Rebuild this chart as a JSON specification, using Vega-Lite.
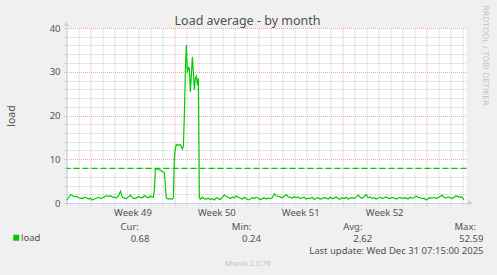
{
  "$schema": "https://vega.github.io/schema/vega-lite/v6.json",
  "width": 400,
  "height": 175,
  "autosize": {"type": "none"},
  "padding": {"left": 66.5, "top": 28, "right": 30.5, "bottom": 72},
  "background": "#f0f0f0",
  "config": {"font": "Noto Sans", "view": {"fill": "white", "stroke": null}},
  "title": {"text": "Load average - by month", "fontSize": 12.5, "font": "Noto Sans", "fontWeight": "normal", "color": "#505050", "anchor": "middle", "frame": "group", "dx": -19, "dy": 25, "offset": 2},
  "datasets": {
    "load": [
      {"t":"2025-11-28T00:00Z","load":0.6},{"t":"2025-11-28T04:00Z","load":1.2},{"t":"2025-11-28T08:00Z","load":1.9},{"t":"2025-11-28T12:00Z","load":1.7},{"t":"2025-11-28T16:00Z","load":1.4},{"t":"2025-11-28T20:00Z","load":1.5},
      {"t":"2025-11-29T00:00Z","load":1.2},{"t":"2025-11-29T04:00Z","load":1.1},{"t":"2025-11-29T08:00Z","load":1.0},{"t":"2025-11-29T12:00Z","load":1.3},{"t":"2025-11-29T16:00Z","load":1.2},{"t":"2025-11-29T20:00Z","load":0.9},
      {"t":"2025-11-30T00:00Z","load":1.1},{"t":"2025-11-30T04:00Z","load":0.7},{"t":"2025-11-30T08:00Z","load":0.9},{"t":"2025-11-30T12:00Z","load":1.1},{"t":"2025-11-30T16:00Z","load":1.3},{"t":"2025-11-30T20:00Z","load":1.0},
      {"t":"2025-12-01T00:00Z","load":1.2},{"t":"2025-12-01T04:00Z","load":1.4},{"t":"2025-12-01T08:00Z","load":1.7},{"t":"2025-12-01T12:00Z","load":1.5},{"t":"2025-12-01T16:00Z","load":1.6},{"t":"2025-12-01T20:00Z","load":1.4},
      {"t":"2025-12-02T00:00Z","load":1.3},{"t":"2025-12-02T04:00Z","load":1.2},{"t":"2025-12-02T08:00Z","load":1.6},{"t":"2025-12-02T12:00Z","load":2.7},{"t":"2025-12-02T16:00Z","load":1.3},{"t":"2025-12-02T20:00Z","load":1.1},
      {"t":"2025-12-03T00:00Z","load":1.0},{"t":"2025-12-03T04:00Z","load":1.4},{"t":"2025-12-03T08:00Z","load":1.8},{"t":"2025-12-03T12:00Z","load":1.2},{"t":"2025-12-03T16:00Z","load":1.0},{"t":"2025-12-03T20:00Z","load":1.1},
      {"t":"2025-12-04T00:00Z","load":1.5},{"t":"2025-12-04T04:00Z","load":1.3},{"t":"2025-12-04T08:00Z","load":1.2},{"t":"2025-12-04T12:00Z","load":1.7},{"t":"2025-12-04T16:00Z","load":1.4},{"t":"2025-12-04T20:00Z","load":1.2},
      {"t":"2025-12-05T00:00Z","load":1.6},{"t":"2025-12-05T04:00Z","load":1.3},{"t":"2025-12-05T06:00Z","load":1.4},{"t":"2025-12-05T08:00Z","load":3.0},{"t":"2025-12-05T10:00Z","load":7.8},{"t":"2025-12-05T12:00Z","load":7.8},{"t":"2025-12-05T16:00Z","load":7.6},{"t":"2025-12-05T20:00Z","load":7.5},
      {"t":"2025-12-06T00:00Z","load":7.2},{"t":"2025-12-06T04:00Z","load":6.9},{"t":"2025-12-06T06:00Z","load":4.0},{"t":"2025-12-06T08:00Z","load":1.1},{"t":"2025-12-06T12:00Z","load":0.9},{"t":"2025-12-06T16:00Z","load":1.0},{"t":"2025-12-06T20:00Z","load":0.9},{"t":"2025-12-06T22:00Z","load":1.2},
      {"t":"2025-12-07T00:00Z","load":10.2},{"t":"2025-12-07T02:00Z","load":12.5},{"t":"2025-12-07T04:00Z","load":13.4},{"t":"2025-12-07T08:00Z","load":13.2},{"t":"2025-12-07T12:00Z","load":13.3},{"t":"2025-12-07T16:00Z","load":12.3},{"t":"2025-12-07T18:00Z","load":13.0},{"t":"2025-12-07T20:00Z","load":20.0},{"t":"2025-12-07T22:00Z","load":30.0},
      {"t":"2025-12-08T00:00Z","load":36.1},{"t":"2025-12-08T02:00Z","load":29.8},{"t":"2025-12-08T04:00Z","load":31.0},{"t":"2025-12-08T06:00Z","load":30.8},{"t":"2025-12-08T08:00Z","load":25.4},{"t":"2025-12-08T10:00Z","load":29.0},{"t":"2025-12-08T12:00Z","load":33.4},{"t":"2025-12-08T14:00Z","load":30.0},{"t":"2025-12-08T16:00Z","load":25.9},{"t":"2025-12-08T18:00Z","load":28.5},{"t":"2025-12-08T20:00Z","load":29.0},{"t":"2025-12-08T22:00Z","load":27.0},
      {"t":"2025-12-09T00:00Z","load":28.5},{"t":"2025-12-09T02:00Z","load":1.2},{"t":"2025-12-09T04:00Z","load":0.9},{"t":"2025-12-09T08:00Z","load":1.3},{"t":"2025-12-09T12:00Z","load":1.0},{"t":"2025-12-09T16:00Z","load":0.9},{"t":"2025-12-09T20:00Z","load":1.1},
      {"t":"2025-12-10T00:00Z","load":0.8},{"t":"2025-12-10T04:00Z","load":1.0},{"t":"2025-12-10T08:00Z","load":0.7},{"t":"2025-12-10T12:00Z","load":1.2},{"t":"2025-12-10T16:00Z","load":1.0},{"t":"2025-12-10T20:00Z","load":0.8},
      {"t":"2025-12-11T00:00Z","load":1.3},{"t":"2025-12-11T04:00Z","load":1.8},{"t":"2025-12-11T08:00Z","load":1.5},{"t":"2025-12-11T12:00Z","load":1.3},{"t":"2025-12-11T16:00Z","load":1.0},{"t":"2025-12-11T20:00Z","load":1.4},
      {"t":"2025-12-12T00:00Z","load":1.2},{"t":"2025-12-12T04:00Z","load":1.6},{"t":"2025-12-12T08:00Z","load":1.3},{"t":"2025-12-12T12:00Z","load":1.1},{"t":"2025-12-12T16:00Z","load":0.9},{"t":"2025-12-12T20:00Z","load":1.3},
      {"t":"2025-12-13T00:00Z","load":1.0},{"t":"2025-12-13T04:00Z","load":0.7},{"t":"2025-12-13T08:00Z","load":0.9},{"t":"2025-12-13T12:00Z","load":1.2},{"t":"2025-12-13T16:00Z","load":1.0},{"t":"2025-12-13T20:00Z","load":1.3},
      {"t":"2025-12-14T00:00Z","load":1.1},{"t":"2025-12-14T04:00Z","load":0.8},{"t":"2025-12-14T08:00Z","load":1.0},{"t":"2025-12-14T12:00Z","load":1.2},{"t":"2025-12-14T16:00Z","load":0.9},{"t":"2025-12-14T20:00Z","load":1.1},
      {"t":"2025-12-15T00:00Z","load":1.0},{"t":"2025-12-15T04:00Z","load":1.2},{"t":"2025-12-15T08:00Z","load":2.1},{"t":"2025-12-15T12:00Z","load":1.7},{"t":"2025-12-15T16:00Z","load":1.5},{"t":"2025-12-15T20:00Z","load":1.4},
      {"t":"2025-12-16T00:00Z","load":1.2},{"t":"2025-12-16T04:00Z","load":1.6},{"t":"2025-12-16T08:00Z","load":1.9},{"t":"2025-12-16T12:00Z","load":1.4},{"t":"2025-12-16T16:00Z","load":1.3},{"t":"2025-12-16T20:00Z","load":1.1},
      {"t":"2025-12-17T00:00Z","load":1.5},{"t":"2025-12-17T04:00Z","load":1.2},{"t":"2025-12-17T08:00Z","load":1.4},{"t":"2025-12-17T12:00Z","load":1.0},{"t":"2025-12-17T16:00Z","load":1.2},{"t":"2025-12-17T20:00Z","load":1.3},
      {"t":"2025-12-18T00:00Z","load":0.9},{"t":"2025-12-18T04:00Z","load":1.1},{"t":"2025-12-18T08:00Z","load":1.0},{"t":"2025-12-18T12:00Z","load":1.3},{"t":"2025-12-18T16:00Z","load":0.8},{"t":"2025-12-18T20:00Z","load":1.1},
      {"t":"2025-12-19T00:00Z","load":1.2},{"t":"2025-12-19T04:00Z","load":0.9},{"t":"2025-12-19T08:00Z","load":1.0},{"t":"2025-12-19T12:00Z","load":1.2},{"t":"2025-12-19T16:00Z","load":1.1},{"t":"2025-12-19T20:00Z","load":0.9},
      {"t":"2025-12-20T00:00Z","load":1.3},{"t":"2025-12-20T04:00Z","load":1.0},{"t":"2025-12-20T08:00Z","load":1.1},{"t":"2025-12-20T12:00Z","load":1.4},{"t":"2025-12-20T16:00Z","load":1.0},{"t":"2025-12-20T20:00Z","load":0.9},
      {"t":"2025-12-21T00:00Z","load":1.2},{"t":"2025-12-21T04:00Z","load":1.0},{"t":"2025-12-21T08:00Z","load":1.3},{"t":"2025-12-21T12:00Z","load":0.9},{"t":"2025-12-21T16:00Z","load":1.1},{"t":"2025-12-21T20:00Z","load":1.2},
      {"t":"2025-12-22T00:00Z","load":1.0},{"t":"2025-12-22T04:00Z","load":1.4},{"t":"2025-12-22T08:00Z","load":1.8},{"t":"2025-12-22T12:00Z","load":1.3},{"t":"2025-12-22T16:00Z","load":1.1},{"t":"2025-12-22T20:00Z","load":1.5},
      {"t":"2025-12-23T00:00Z","load":1.9},{"t":"2025-12-23T04:00Z","load":1.2},{"t":"2025-12-23T08:00Z","load":1.4},{"t":"2025-12-23T12:00Z","load":1.0},{"t":"2025-12-23T16:00Z","load":1.2},{"t":"2025-12-23T20:00Z","load":0.9},
      {"t":"2025-12-24T00:00Z","load":1.1},{"t":"2025-12-24T04:00Z","load":1.3},{"t":"2025-12-24T08:00Z","load":1.0},{"t":"2025-12-24T12:00Z","load":1.2},{"t":"2025-12-24T16:00Z","load":1.4},{"t":"2025-12-24T20:00Z","load":1.1},
      {"t":"2025-12-25T00:00Z","load":1.0},{"t":"2025-12-25T04:00Z","load":1.3},{"t":"2025-12-25T08:00Z","load":1.2},{"t":"2025-12-25T12:00Z","load":0.9},{"t":"2025-12-25T16:00Z","load":1.1},{"t":"2025-12-25T20:00Z","load":1.3},
      {"t":"2025-12-26T00:00Z","load":1.0},{"t":"2025-12-26T04:00Z","load":1.2},{"t":"2025-12-26T08:00Z","load":1.1},{"t":"2025-12-26T12:00Z","load":0.9},{"t":"2025-12-26T16:00Z","load":1.3},{"t":"2025-12-26T20:00Z","load":1.1},
      {"t":"2025-12-27T00:00Z","load":1.2},{"t":"2025-12-27T04:00Z","load":1.6},{"t":"2025-12-27T08:00Z","load":1.3},{"t":"2025-12-27T12:00Z","load":1.2},{"t":"2025-12-27T16:00Z","load":1.0},{"t":"2025-12-27T20:00Z","load":1.1},
      {"t":"2025-12-28T00:00Z","load":0.7},{"t":"2025-12-28T04:00Z","load":1.0},{"t":"2025-12-28T08:00Z","load":1.2},{"t":"2025-12-28T12:00Z","load":1.1},{"t":"2025-12-28T16:00Z","load":1.3},{"t":"2025-12-28T20:00Z","load":1.0},
      {"t":"2025-12-29T00:00Z","load":1.2},{"t":"2025-12-29T04:00Z","load":1.5},{"t":"2025-12-29T08:00Z","load":1.8},{"t":"2025-12-29T12:00Z","load":1.3},{"t":"2025-12-29T16:00Z","load":1.1},{"t":"2025-12-29T20:00Z","load":1.4},
      {"t":"2025-12-30T00:00Z","load":1.2},{"t":"2025-12-30T04:00Z","load":1.0},{"t":"2025-12-30T08:00Z","load":1.3},{"t":"2025-12-30T12:00Z","load":1.6},{"t":"2025-12-30T16:00Z","load":1.5},{"t":"2025-12-30T20:00Z","load":1.3},
      {"t":"2025-12-31T00:00Z","load":1.4},{"t":"2025-12-31T04:00Z","load":0.7}
    ],
    "limits": [{"name": "warning", "value": 7.9}],
    "stats": [
      {"row":"head","stat":"Cur","text":"Cur:"},{"row":"head","stat":"Min","text":"Min:"},{"row":"head","stat":"Avg","text":"Avg:"},{"row":"head","stat":"Max","text":"Max:"},
      {"row":"value","stat":"Cur","text":"0.68"},{"row":"value","stat":"Min","text":"0.24"},{"row":"value","stat":"Avg","text":"2.62"},{"row":"value","stat":"Max","text":"52.59"},
      {"row":"update","stat":"Max","text":"Last update: Wed Dec 31 07:15:00 2025"}
    ]
  },
  "layer": [
    {
      "data": {"name": "load"},
      "mark": {"type": "line", "strokeWidth": 1.2, "clip": true},
      "encoding": {
        "x": {
          "field": "t", "type": "temporal",
          "scale": {"type": "utc", "domain": ["2025-11-28T00:00Z", "2025-12-31T09:00Z"]},
          "axis": {
            "tickCount": {"interval": "day", "step": 1},
            "grid": true,
            "gridColor": {"condition": {"test": "utcday(datum.value) === 0", "value": "#eda3a3"}, "value": "#cccccc"},
            "gridDash": [1, 1],
            "gridWidth": 1,
            "ticks": true,
            "tickSize": 3,
            "tickDash": [1, 1],
            "tickColor": {"condition": {"test": "utcday(datum.value) === 0", "value": "#eda3a3"}, "value": "#cccccc"},
            "domainColor": "#c8ccf0",
            "labelExpr": "utcday(datum.value) === 0 && time(datum.value) < utc(2025, 11, 25) ? 'Week ' + utcFormat(time(datum.value) + 302400000, '%V') : ''",
            "labelOffset": 42,
            "labelFlush": false,
            "labelOverlap": false,
            "labelBound": false,
            "labelPadding": 1,
            "labelFont": "Noto Sans",
            "labelFontSize": 9.5,
            "labelColor": "#505050",
            "title": "Munin 2.0.76",
            "titleX": 181,
            "titleY": 60,
            "titleAlign": "center",
            "titleBaseline": "middle",
            "titleFont": "Noto Sans",
            "titleFontSize": 7.5,
            "titleFontWeight": "normal",
            "titleColor": "#c4c4c4"
          }
        },
        "y": {
          "field": "load", "type": "quantitative",
          "scale": {"domain": [0, 40], "nice": false, "zero": true},
          "axis": {
            "values": [0, 2, 4, 6, 8, 10, 12, 14, 16, 18, 20, 22, 24, 26, 28, 30, 32, 34, 36, 38, 40],
            "grid": true,
            "gridColor": {"condition": {"test": "datum.value % 10 === 0", "value": "#eda3a3"}, "value": "#cccccc"},
            "gridDash": [1, 1],
            "ticks": true,
            "tickSize": 3,
            "tickDash": [1, 1],
            "tickColor": {"condition": {"test": "datum.value % 10 === 0", "value": "#eda3a3"}, "value": "#cccccc"},
            "domainColor": "#c8ccf0",
            "labelExpr": "datum.value % 10 === 0 ? datum.label : ''",
            "labelPadding": 3.5,
            "labelFont": "Noto Sans",
            "labelFontSize": 9.5,
            "labelColor": "#505050",
            "labelOverlap": false,
            "title": "load",
            "titleFont": "Noto Sans",
            "titleFontSize": 10.5,
            "titleFontWeight": "normal",
            "titleColor": "#505050",
            "titleX": -55,
            "titleY": 87.5,
            "titleAngle": 270,
            "titleAlign": "center",
            "titleBaseline": "middle"
          }
        },
        "color": {
          "datum": "load", "type": "nominal",
          "scale": {"range": ["#00cc00"]},
          "legend": {
            "orient": "none", "legendX": -55, "legendY": 205, "title": null, "padding": 0,
            "symbolType": "square", "symbolSize": 36, "symbolFillColor": "#00cc00", "symbolStrokeColor": "#00cc00", "symbolStrokeWidth": 0,
            "labelFont": "Noto Sans", "labelFontSize": 9.5, "labelColor": "#505050", "labelOffset": 0
          }
        }
      }
    },
    {
      "data": {"name": "limits"},
      "mark": {"type": "rule", "color": "#00cc00", "strokeDash": [6, 3], "strokeWidth": 1.2},
      "encoding": {
        "y": {
          "field": "value", "type": "quantitative",
          "scale": {"domain": [0, 40], "nice": false, "zero": true},
          "axis": {
            "orient": "right", "domain": false, "ticks": false, "labels": false, "grid": false,
            "title": "RRDTOOL / TOBI OETIKER",
            "titleAngle": 90, "titleX": 18, "titleY": 27,
            "titleAlign": "center", "titleBaseline": "middle", "titleLimit": 200,
            "titleFont": "DejaVu Sans", "titleFontSize": 7.8, "titleFontWeight": "normal", "titleColor": "#c4c4c4"
          }
        }
      }
    },
    {
      "data": {"name": "limits"},
      "mark": {"type": "point", "shape": "triangle-right", "filled": true, "size": 28, "color": "#c8ccf0", "opacity": 1, "xOffset": 4},
      "encoding": {
        "x": {"datum": {"year": 2025, "month": 12, "date": 31, "hours": 9, "utc": true}, "type": "temporal", "scale": {"type": "utc", "domain": ["2025-11-28T00:00Z", "2025-12-31T09:00Z"]}, "axis": null},
        "y": {"datum": 0, "type": "quantitative", "scale": {"domain": [0, 40], "nice": false, "zero": true}, "axis": null}
      }
    },
    {
      "data": {"name": "limits"},
      "mark": {"type": "point", "shape": "triangle-up", "filled": true, "size": 28, "color": "#c8ccf0", "opacity": 1, "yOffset": -4},
      "encoding": {
        "x": {"datum": {"year": 2025, "month": 11, "date": 28, "hours": 0, "utc": true}, "type": "temporal", "scale": {"type": "utc", "domain": ["2025-11-28T00:00Z", "2025-12-31T09:00Z"]}, "axis": null},
        "y": {"datum": 40, "type": "quantitative", "scale": {"domain": [0, 40], "nice": false, "zero": true}, "axis": null}
      }
    },
    {
      "data": {"name": "stats"},
      "transform": [{"filter": "datum.row === 'head'"}],
      "mark": {"type": "text", "align": "left", "baseline": "middle", "font": "Noto Sans", "fontSize": 9.5, "color": "#505050"},
      "encoding": {
        "x": {"field": "stat", "type": "nominal", "scale": {"type": "point", "domain": ["Cur", "Min", "Avg", "Max"], "range": [54, 388], "padding": 0}, "axis": null},
        "y": {"field": "row", "type": "nominal", "scale": {"type": "point", "domain": ["head", "value", "update"], "range": [199, 223], "padding": 0}, "axis": null},
        "text": {"field": "text"}
      }
    },
    {
      "data": {"name": "stats"},
      "transform": [{"filter": "datum.row !== 'head'"}],
      "mark": {"type": "text", "align": "right", "baseline": "middle", "dx": 29, "font": "Noto Sans", "fontSize": 9.5, "color": "#505050"},
      "encoding": {
        "x": {"field": "stat", "type": "nominal", "scale": {"type": "point", "domain": ["Cur", "Min", "Avg", "Max"], "range": [54, 388], "padding": 0}, "axis": null},
        "y": {"field": "row", "type": "nominal", "scale": {"type": "point", "domain": ["head", "value", "update"], "range": [199, 223], "padding": 0}, "axis": null},
        "text": {"field": "text"}
      }
    }
  ],
  "resolve": {
    "scale": {"x": "independent", "y": "independent"},
    "axis": {"x": "independent", "y": "independent"}
  }
}
